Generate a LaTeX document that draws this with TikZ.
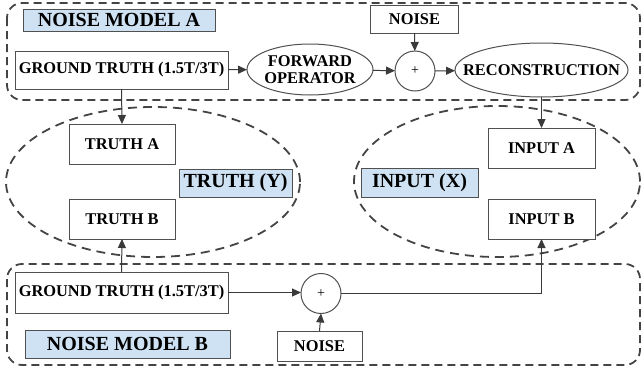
\documentclass[tikz,border=0pt]{standalone}
\usepackage{fontspec}
\setmainfont{Liberation Serif}
\usetikzlibrary{shapes.geometric,arrows.meta}
\definecolor{lineg}{HTML}{3A3A3A}
\definecolor{dashg}{HTML}{444444}
\definecolor{lblue}{HTML}{CFE2F3}
\definecolor{boxg}{HTML}{505050}
\tikzset{
  every node/.style={inner sep=0pt, outer sep=0pt},
  txt/.style={font=\fontsize{16.4}{18}\selectfont\bfseries, align=center},
  plainbox/.style={draw=boxg, line width=1pt, fill=white, rectangle, txt},
  ellbox/.style={draw=boxg, line width=1pt, fill=white, ellipse},
  plusc/.style={draw=boxg, line width=1pt, fill=white, circle, minimum size=40pt, font=\fontsize{14}{16}\selectfont},
  bluelbl/.style={draw=boxg, line width=1pt, fill=lblue, rectangle, font=\fontsize{20}{22}\selectfont\bfseries},
  dashframe/.style={draw=dashg, line width=1.8pt, dash pattern=on 8pt off 5pt, rounded corners=15pt},
  dashell/.style={draw=dashg, line width=1.8pt, dash pattern=on 9pt off 6pt, ellipse},
  conn/.style={draw=lineg, line width=1pt, -{Triangle[length=9pt,width=8pt]}},
}
\begin{document}
\begin{tikzpicture}[x=1pt,y=-1pt]
\useasboundingbox (0,0) rectangle (643,372);
% frames
\draw[dashframe] (7,3) rectangle (640,100);
\draw[dashframe] (7,264) rectangle (640,365);
\node[dashell, minimum width=294pt, minimum height=150pt] (truthEll) at (153,182) {};
\node[dashell, minimum width=286pt, minimum height=151pt] (inputEll) at (497,181.5) {};
% noise model A
\node[bluelbl, minimum width=192pt, minimum height=22pt] (lblA) at (119,20) {NOISE MODEL A};
\node[plainbox, minimum width=213pt, minimum height=38pt] (gtA) at (121.5,70) {GROUND TRUTH (1.5T/3T)};
\node[ellbox, minimum width=126pt, minimum height=51pt,
      label={[txt]center:FORWARD\\[-1pt]OPERATOR}] (fwd) at (310,69.5) {};
\node[plainbox, minimum width=88pt, minimum height=28pt] (noiseA) at (414.5,19) {NOISE};
\node[plusc] (plusA) at (415,71) {+};
\node[ellbox, minimum width=173pt, minimum height=54pt,
      label={[txt]center:RECONSTRUCTION}] (recon) at (541.5,70) {};
% truth
\node[plainbox, minimum width=106pt, minimum height=40pt] (truthA) at (122,144) {TRUTH A};
\node[plainbox, minimum width=106pt, minimum height=40pt] (truthB) at (122,219) {TRUTH B};
\node[bluelbl, minimum width=113pt, minimum height=28pt] (truthY) at (235.5,183) {TRUTH (Y)};
% input
\node[plainbox, minimum width=107pt, minimum height=40pt] (inputA) at (541.5,148) {INPUT A};
\node[plainbox, minimum width=107pt, minimum height=40pt] (inputB) at (541.5,219) {INPUT B};
\node[bluelbl, minimum width=117pt, minimum height=29pt] (inputX) at (419.5,182.5) {INPUT (X)};
% noise model B
\node[plainbox, minimum width=213pt, minimum height=41pt] (gtB) at (121.5,292.5) {GROUND TRUTH (1.5T/3T)};
\node[bluelbl, minimum width=205pt, minimum height=28pt] (lblB) at (127.5,344) {NOISE MODEL B};
\node[plusc] (plusB) at (321,293.5) {+};
\node[plainbox, minimum width=85pt, minimum height=30pt] (noiseB) at (319.5,346) {NOISE};
% connectors
\draw[conn] (gtA) -- (fwd);
\draw[conn] (fwd) -- (plusA);
\draw[conn] (plusA) -- (recon);
\draw[conn] (noiseA) -- (plusA);
\draw[conn] (gtA.south) -- (truthA.north);
\draw[conn] (recon.south) -- (inputA.north);
\draw[conn] (gtB.north) -- (truthB.south);
\draw[conn] (gtB.east) -- (gtB.east -| plusB.west);
\draw[conn] (noiseB.north) -- (plusB.south);
\draw[conn] (plusB.east) -| (inputB.south);
\end{tikzpicture}
\end{document}
